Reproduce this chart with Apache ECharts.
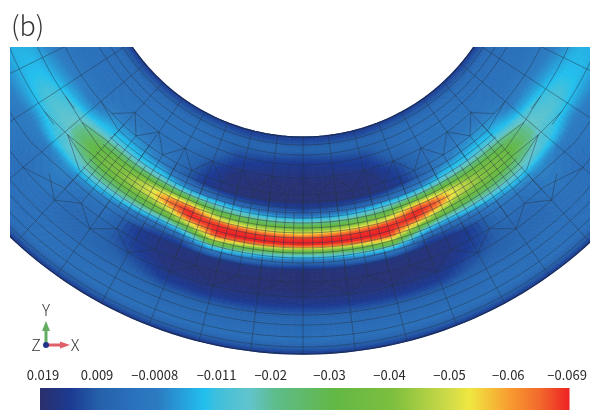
<!DOCTYPE html>
<html><head><meta charset="utf-8">
<style>html,body{margin:0;padding:0;background:#fff}#c{width:590px;height:410px}</style>
<script src="https://cdn.jsdelivr.net/npm/echarts@6/dist/echarts.min.js"></script>
</head><body><div id="c"></div>
<script>
// Colour scale, in thousandths of the plotted quantity
const colormapValues = [19,14,9.2,4,-0.6,-8.4,-10.4,-15.9,-20,-24.2,-29.8,-39.8,-49.6,-52.4,-59.2,-64,-69];
const colormapColors = ['#2b2f6c','#1c3a92','#2560ab','#2a6fba','#2c7cc2','#22c0ee','#3fbfdc','#62c4cc','#5dbd8c','#60ba70','#62b845','#7ebf3e','#d5dd48','#f0e740','#f89a30','#f26a2c','#ee2224'];
const tickLabels = ['0.019','0.009','\u22120.0008','\u22120.011','\u22120.02','\u22120.03','\u22120.04','\u22120.05','\u22120.06','\u22120.069'];
const tickLabelSlots = [0.05,0.97,1.95,3.0,3.92,4.92,5.94,6.96,7.96,8.96];

// Read values: node angle (deg), node radius, and a value per radius for each angle
const nodeAngles = [-70,-62,-55,-50,-45,-40,-35,-30,-26,-22,-16,-8,0,8,16,22,26,30,35,40,45,50,55,62,70];
const nodeRadii = [207,212,220,235,255,272,282,285,288,291,294,298,302,305,308,311,314,316,318,321,324,327,330,334,342,360,375,390,410,417,424];
const fieldByAngle = [
[14,11,5,4,3,1,0,-1,-2,-3,-4,-5,-6,-6,-6,-6,-6,-6,-6,-5,-4,-3,-2,-2,-1,0,1,2,4,8,14],
[14,11,5,4,3,0,-3,-4,-5,-6,-7,-8,-8,-8,-8,-8,-7,-7,-6,-5,-4,-3,-2,-1,0,1,2,3,4,8,14],
[14,11,5,4,3,-1,-5,-7,-9,-10,-11,-12,-13,-13,-12,-11,-10,-9,-8,-6,-4,-2,-1,0,1,2,3,4,4,8,14],
[14,11,5,4,3,0,-6,-9,-12,-14,-15,-16,-16,-16,-15,-14,-13,-12,-11,-11,-9,-7,-4,-1,2,4,4,4,4,8,14],
[14,11,5,4,2,-4,-10,-14,-18,-22,-25,-27,-28,-28,-26,-24,-21,-19,-17,-16,-13,-10,-6,-3,-1,2,4,4,4,8,14],
[14,11,5,3,2,-5,-12,-17,-22,-26,-30,-34,-36,-36,-34,-31,-28,-25,-22,-20,-16,-12,-8,-3,3,6,6,4,4,8,14],
[14,11,5,3,3,-3,-10,-15,-20,-26,-32,-39,-42,-42,-40,-36,-32,-28,-24,-20,-15,-10,-4,0,4,7,7,5,4,8,14],
[14,11,5,3,4,1,-9,-14,-20,-28,-37,-48,-51,-50,-46,-40,-34,-30,-26,-18,-11,-4,2,7,13,12,9,5,4,8,14],
[14,11,5,4,7,9,-3,-10,-19,-28,-40,-56,-64,-62,-54,-46,-38,-32,-26,-16,-7,1,6,11,16,15,11,6,4,8,14],
[14,11,6,6,12,14,2,-8,-16,-28,-40,-60,-68,-69,-68,-64,-52,-44,-36,-24,-12,-3,5,12,17,17,14,7,4,8,14],
[14,12,7,12,17,17,6,-6,-12,-18,-26,-40,-52,-65,-68,-69,-69,-68,-66,-56,-42,-28,-14,2,17,18,15,7,4,8,14],
[14,12,7,14,18,18,9,2,-6,-14,-23,-34,-48,-60,-67,-69,-69,-68,-60,-42,-28,-16,-5,6,17,18,15,7,4,8,14],
[14,12,8,15,18,18,11,7,-2,-12,-21,-32,-45,-56,-65,-69,-69,-68,-58,-36,-24,-12,-1,9,18,18,15,7,4,8,14],
[14,12,7,14,18,18,9,2,-6,-14,-23,-34,-48,-60,-67,-69,-69,-68,-60,-42,-28,-16,-5,6,17,18,15,7,4,8,14],
[14,12,7,12,17,17,6,-6,-12,-18,-26,-40,-52,-65,-68,-69,-69,-68,-66,-56,-42,-28,-14,2,17,18,15,7,4,8,14],
[14,11,6,6,12,14,2,-8,-16,-28,-40,-60,-68,-69,-68,-65,-55,-46,-37,-24,-12,-3,5,12,17,17,14,7,4,8,14],
[14,11,5,4,7,9,-3,-10,-19,-28,-40,-56,-65,-65,-60,-50,-40,-34,-27,-16,-7,1,6,11,16,15,11,6,4,8,14],
[14,11,5,3,4,1,-9,-14,-20,-28,-37,-48,-51,-50,-46,-40,-34,-30,-26,-18,-11,-4,2,7,13,12,9,5,4,8,14],
[14,11,5,3,3,-3,-10,-15,-20,-26,-32,-39,-42,-42,-40,-36,-32,-28,-24,-20,-15,-10,-4,0,4,7,7,5,4,8,14],
[14,11,5,3,2,-5,-12,-17,-22,-26,-30,-34,-36,-36,-34,-31,-28,-25,-22,-20,-16,-12,-8,-3,3,6,6,4,4,8,14],
[14,11,5,4,2,-4,-10,-14,-18,-22,-25,-27,-28,-28,-26,-24,-21,-19,-17,-16,-13,-10,-6,-3,-1,2,4,4,4,8,14],
[14,11,5,4,3,0,-6,-9,-12,-14,-15,-16,-16,-16,-15,-14,-13,-12,-11,-11,-9,-7,-4,-1,2,4,4,4,4,8,14],
[14,11,5,4,3,-1,-5,-7,-9,-10,-11,-12,-13,-13,-12,-11,-10,-9,-8,-6,-4,-2,-1,0,1,2,3,4,4,8,14],
[14,11,5,4,3,0,-3,-4,-5,-6,-7,-8,-8,-8,-8,-8,-7,-7,-6,-5,-4,-3,-2,-1,0,1,2,3,4,8,14],
[14,11,5,4,3,1,0,-1,-2,-3,-4,-5,-6,-6,-6,-6,-6,-6,-6,-5,-4,-3,-2,-2,-1,0,1,2,4,8,14]
];

// Mesh layout
const coarseStep = 7.1;
const fullRows = [215,225,235,265,367,385,395,407,417];
const bandRows = [248,272,278,283,288,293,298,303,308,313,318,323,328,333,340,352];
const endRows = [290,316,345];

const CX = 303, CY = -70;
const toXY = (deg, r) => { const a = deg*Math.PI/180; return [CX + r*Math.sin(a), CY + r*Math.cos(a)]; };
const hexToRgb = h => [1,3,5].map(i => parseInt(h.substr(i,2),16));
const colormapRgb = colormapColors.map(hexToRgb);
function colorOf(v){
  if (v >= colormapValues[0]) return colormapColors[0];
  for (let i=1;i<colormapValues.length;i++){
    if (v >= colormapValues[i]){
      const f=(colormapValues[i-1]-v)/(colormapValues[i-1]-colormapValues[i]);
      const a=colormapRgb[i-1], b=colormapRgb[i];
      return 'rgb('+a.map((c,k)=>Math.round(c+(b[k]-c)*f)).join(',')+')';
    }
  }
  return colormapColors[colormapColors.length-1];
}

// field cells: one datum per node of the table
const cellData = [];
for (let i=0;i<nodeAngles.length-1;i++) for (let j=0;j<nodeRadii.length-1;j++)
  cellData.push([i,j,fieldByAngle[i][j]]);

function renderCell(params, api){
  const i=api.value(0), j=api.value(1);
  const a0=nodeAngles[i],a1=nodeAngles[i+1],r0=nodeRadii[j],r1=nodeRadii[j+1];
  const na=Math.max(1,Math.ceil((a1-a0)/1.0)), nr=Math.max(1,Math.ceil((r1-r0)/2));
  const q00=fieldByAngle[i][j],q01=fieldByAngle[i][j+1],q10=fieldByAngle[i+1][j],q11=fieldByAngle[i+1][j+1];
  const children=[];
  for(let p=0;p<na;p++) for(let q=0;q<nr;q++){
    const u0=p/na,u1=(p+1)/na,w0=q/nr,w1=(q+1)/nr,um=(u0+u1)/2,wm=(w0+w1)/2;
    const v=q00*(1-um)*(1-wm)+q10*um*(1-wm)+q01*(1-um)*wm+q11*um*wm;
    const A=a=>a0+(a1-a0)*a, R=w=>r0+(r1-r0)*w;
    const pts=[toXY(A(u0),R(w0)),toXY(A(u1),R(w0)),toXY(A(u1),R(w1)),toXY(A(u0),R(w1))].map(pt=>api.coord(pt));
    const col=colorOf(v);
    children.push({type:'polygon',shape:{points:pts},style:{fill:col,stroke:col,lineWidth:0.8},silent:true});
  }
  return {type:'group',children};
}

// mesh polylines in (angle, radius)
const meshLines=[];
const bandLimit=43;
const arc=(a0,a1,r)=>{const o=[];const n=Math.ceil(Math.abs(a1-a0)/1.5);for(let k=0;k<=n;k++)o.push([a0+(a1-a0)*k/n,r]);return o;};
fullRows.forEach(r=>meshLines.push(arc(-76,76,r)));
bandRows.forEach(r=>meshLines.push(arc(-bandLimit,bandLimit,r)));
endRows.forEach(r=>{meshLines.push(arc(-76,-52,r));meshLines.push(arc(52,76,r));});
for(let k=-11;k<=11;k++){
  const t=k*coarseStep, abs=Math.abs(t);
  if(abs<bandLimit){
    meshLines.push([[t,207],[t,283]]);
    meshLines.push([[t,333],[t,424]]);
    meshLines.push([[t-coarseStep/2,265],[t,248],[t+coarseStep/2,265]]);
    meshLines.push([[t-coarseStep/2,352],[t,367],[t+coarseStep/2,352]]);
  } else meshLines.push([[t,207],[t,424]]);
}
for(let k=-28;k<=28;k++){
  const t=k*coarseStep/4, abs=Math.abs(t);
  if(abs>bandLimit+0.5) continue;
  meshLines.push([[t,283],[t,333]]);
  if(k%2===0){meshLines.push([[t,265],[t,283]]);meshLines.push([[t,333],[t,352]]);}
}
[-1,1].forEach(s=>{
  [288,298].forEach(r=>meshLines.push([[s*bandLimit,r],[s*49,293]]));
  [308,318,328].forEach(r=>meshLines.push([[s*bandLimit,r],[s*49,312]]));
  meshLines.push([[s*49,293],[s*55,290]]);
  meshLines.push([[s*49,312],[s*55,316]]);
  meshLines.push([[s*bandLimit,272],[s*49.7,265]]);
  meshLines.push([[s*bandLimit,340],[s*52,345]]);
  meshLines.push([[s*bandLimit,352],[s*49.7,367]]);
});
const rimLines=[arc(-76,76,207),arc(-76,76,424)];

function renderPath(list,style){
  return (params,api)=>({type:'polyline',shape:{points:list[api.value(0)].map(p=>api.coord(toXY(p[0],p[1])))},style:Object.assign({fill:null},style),silent:true});
}

const chart=echarts.init(document.getElementById('c'),null,{renderer:'canvas'});
const font='"Noto Sans CJK JP","Noto Sans",sans-serif';
const gradientStops=colormapValues.map((v,i)=>({offset:(19-v)/88,color:colormapColors[i]}));

chart.setOption({
  animation:false,
  backgroundColor:'#fff',
  title:{text:'(b)',left:6,top:7,textStyle:{fontFamily:font,fontSize:27,fontWeight:300,color:'#333'}},
  grid:[
    {left:10,top:47,width:580,height:310,containLabel:false},
    {left:40,top:388,width:530,height:22}
  ],
  xAxis:[
    {type:'value',gridIndex:0,min:10,max:590,show:false},
    {type:'value',gridIndex:1,min:0,max:9,interval:1,position:'top',z:10,
      axisLine:{show:true,lineStyle:{color:'#bbb',width:1}},
      axisTick:{show:true,inside:true,length:22,lineStyle:{color:'rgba(90,90,90,0.6)',width:1}},
      splitLine:{show:false},
      axisLabel:{show:true,customValues:tickLabelSlots,margin:6,fontFamily:font,fontSize:13,color:'#2a2a2a',
        formatter:v=>{const i=tickLabelSlots.indexOf(v);return i>=0?tickLabels[i]:'';}}}
  ],
  yAxis:[
    {type:'value',gridIndex:0,min:47,max:357,inverse:true,show:false},
    {type:'value',gridIndex:1,min:0,max:1,show:false}
  ],
  series:[
    {type:'custom',xAxisIndex:0,yAxisIndex:0,clip:true,silent:true,data:cellData,renderItem:renderCell,z:1,progressive:0,animation:false},
    {type:'custom',xAxisIndex:0,yAxisIndex:0,clip:true,silent:true,data:meshLines.map((_,i)=>[i]),
      renderItem:renderPath(meshLines,{stroke:'rgba(38,52,70,0.58)',lineWidth:0.8}),z:2,progressive:0},
    {type:'custom',xAxisIndex:0,yAxisIndex:0,clip:true,silent:true,data:rimLines.map((_,i)=>[i]),
      renderItem:renderPath(rimLines,{stroke:'#1a2f5e',lineWidth:1.4}),z:3,progressive:0},
    {type:'custom',xAxisIndex:1,yAxisIndex:1,silent:true,data:[[0,9]],z:2,
      renderItem:(params,api)=>{
        const a=api.coord([api.value(0),1]),b=api.coord([api.value(1),0]);
        return {type:'rect',shape:{x:a[0],y:a[1],width:b[0]-a[0],height:b[1]-a[1]},
          style:{fill:new echarts.graphic.LinearGradient(0,0,1,0,gradientStops)}};
      }}
  ],
  graphic:[
    {type:'line',shape:{x1:46,y1:345,x2:46,y2:329},style:{stroke:'#62ad62',lineWidth:3},z:20},
    {type:'polygon',shape:{points:[[46,321],[42,331],[50,331]]},style:{fill:'#62ad62'},z:20},
    {type:'line',shape:{x1:46,y1:345,x2:62,y2:345},style:{stroke:'#de5f66',lineWidth:3},z:20},
    {type:'polygon',shape:{points:[[70,345],[60,341.5],[60,348.5]]},style:{fill:'#de5f66'},z:20},
    {type:'circle',shape:{cx:46,cy:345,r:3},style:{fill:'#22318a'},z:21},
    {type:'text',x:46,y:310,style:{text:'Y',font:'300 16px '+font,fill:'#333',textAlign:'center',textVerticalAlign:'middle'},z:20},
    {type:'text',x:36,y:345,style:{text:'Z',font:'300 16px '+font,fill:'#333',textAlign:'center',textVerticalAlign:'middle'},z:20},
    {type:'text',x:75,y:345,style:{text:'X',font:'300 16px '+font,fill:'#333',textAlign:'center',textVerticalAlign:'middle'},z:20}
  ]
});
</script></body></html>
